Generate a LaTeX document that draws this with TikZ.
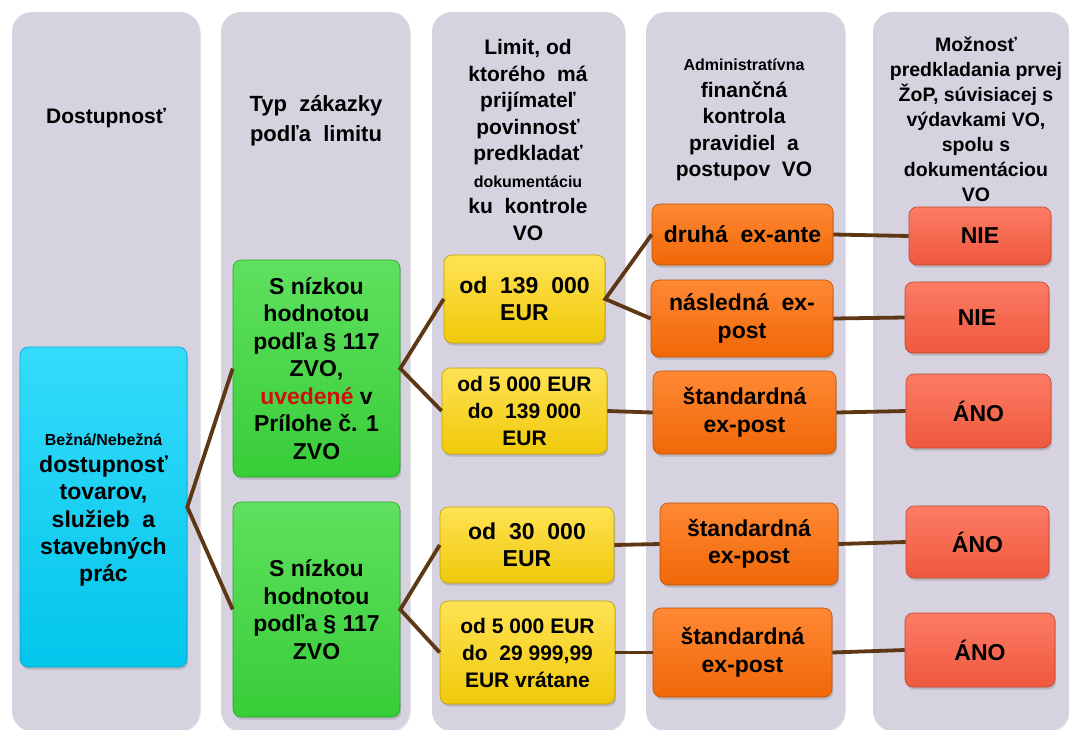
\documentclass[tikz,border=0pt]{standalone}
\usepackage{fontspec}
\setmainfont{Liberation Sans}
\usetikzlibrary{shadows}
\definecolor{colbg}{HTML}{D6D2E0}
\definecolor{cblue}{HTML}{03D2FA}
\definecolor{cgreen}{HTML}{3CDA3C}
\definecolor{cyellow}{HTML}{FFD60A}
\definecolor{corange}{HTML}{FF6E08}
\definecolor{cred}{HTML}{FD5E42}
\definecolor{clink}{HTML}{5E3714}
\definecolor{cuved}{HTML}{D01010}
\tikzset{
  colbox/.style={fill=colbg, rounded corners=20pt,
    drop shadow={shadow xshift=0.8pt, shadow yshift=-1pt, opacity=0.18}},
  head/.style={align=center, font=\bfseries\fontsize{21}{26.5}\selectfont, inner sep=0pt},
  box/.style={rectangle, rounded corners=8pt, align=center, inner sep=2pt,
    font=\bfseries\fontsize{23}{27.5}\selectfont, text=black,
    drop shadow={shadow xshift=1.2pt, shadow yshift=-2.5pt, opacity=0.35}},
  bluebox/.style={box, draw=cblue!80!black, line width=0.6pt, top color=cblue!80!white, middle color=cblue, bottom color=cblue!94!black},
  greenbox/.style={box, draw=cgreen!75!black, line width=0.6pt, top color=cgreen!82!white, middle color=cgreen, bottom color=cgreen!94!black},
  yellowbox/.style={box, draw=cyellow!75!black, line width=0.6pt, top color=cyellow!70!white, middle color=cyellow, bottom color=cyellow!94!black},
  orangebox/.style={box, draw=corange!75!black, line width=0.6pt, top color=corange!82!white, middle color=corange, bottom color=corange!94!black},
  redbox/.style={box, draw=cred!75!black, line width=0.6pt, top color=cred!82!white, middle color=cred, bottom color=cred!94!black},
  link/.style={draw=clink, line width=3.8pt},
}
\begin{document}
\begin{tikzpicture}[x=1pt, y=-1pt]
\useasboundingbox (0,0) rectangle (1069,729);
\fill[white] (0,0) rectangle (1069,729);
\clip (0,0) rectangle (1069,729);
% columns
\path[colbox] (12,12) rectangle (200,731);
\path[colbox] (221,12) rectangle (410,731);
\path[colbox] (432,12) rectangle (625,731);
\path[colbox] (646,12) rectangle (845,731);
\path[colbox] (873,12) rectangle (1069,731);
% headers
\node[head] (h1) at (106,118) {Dostupnosť};
\node[head, font=\bfseries\fontsize{22}{30}\selectfont] (h2) at (316,121) {Typ\ \ zákazky\\podľa\ \ limitu};
\node[head] (h3) at (528,140) {Limit, od\\ktorého\ \ má\\prijímateľ\\povinnosť\\predkladať\\{\fontsize{16}{26.5}\selectfont dokumentáciu}\\ku\ \ kontrole\\VO};
\node[head] (h4) at (744,120) {{\fontsize{16}{26.5}\selectfont Administratívna}\\finančná\\kontrola\\pravidiel\ \ a\\postupov\ \ VO};
\node[head, font=\bfseries\fontsize{19.5}{25}\selectfont] (h5) at (976,119) {Možnosť\\predkladania prvej\\ŽoP, súvisiacej s\\výdavkami VO,\\spolu s\\dokumentáciou\\VO};
% boxes
\node[bluebox, minimum width=167pt, minimum height=320pt] (blue) at (103.5,507) {};
\node[font=\bfseries\fontsize{23}{27.3}\selectfont, align=center, inner sep=0pt] (bluetext) at (103.5,510) {{\fontsize{16}{27.3}\selectfont Bežná/Nebežná}\\dostupnosť\\tovarov,\\služieb\ \ a\\stavebných\\prác};
\node[greenbox, minimum width=167pt, minimum height=217pt] (g1) at (316.5,368.5) {S nízkou\\hodnotou\\podľa § 117\\ZVO,\\\textcolor{cuved}{uvedené} v\\Prílohe č. 1\\ZVO};
\node[greenbox, minimum width=167pt, minimum height=215pt] (g2) at (316.5,609.5) {S nízkou\\hodnotou\\podľa § 117\\ZVO};
\node[yellowbox, minimum width=161pt, minimum height=88pt] (y1) at (524.5,299) {od\ \ 139\ \ 000\\EUR};
\node[yellowbox, minimum width=165pt, minimum height=86pt, font=\bfseries\fontsize{21}{27}\selectfont] (y2) at (524.5,411) {od 5 000 EUR\\do\ \ 139 000\\EUR};
\node[yellowbox, minimum width=174pt, minimum height=76pt] (y3) at (527,545) {od\ \ 30\ \ 000\\EUR};
\node[yellowbox, minimum width=175pt, minimum height=103pt, font=\bfseries\fontsize{21}{27}\selectfont] (y4) at (527.5,652.5) {od 5 000 EUR\\do\ \ 29 999,99\\EUR vrátane};
\node[orangebox, minimum width=181pt, minimum height=61pt] (o1) at (742.5,234.5) {druhá\ \ ex-ante};
\node[orangebox, minimum width=182pt, minimum height=77pt] (o2) at (742,318.5) {následná\ \ ex-\\post};
\node[orangebox, minimum width=183pt, minimum height=83pt] (o3) at (744.5,412.5) {štandardná\\ex-post};
\node[orangebox, minimum width=178pt, minimum height=82pt] (o4) at (749,544) {štandardná\\ex-post};
\node[orangebox, minimum width=179pt, minimum height=89pt] (o5) at (742.5,652.5) {štandardná\\ex-post};
\node[redbox, minimum width=142pt, minimum height=58pt] (r1) at (980,236) {NIE};
\node[redbox, minimum width=144pt, minimum height=71pt] (r2) at (977,317.5) {NIE};
\node[redbox, minimum width=145pt, minimum height=74pt] (r3) at (978.5,411) {ÁNO};
\node[redbox, minimum width=143pt, minimum height=72pt] (r4) at (977.5,542) {ÁNO};
\node[redbox, minimum width=150pt, minimum height=74pt] (r5) at (980,650) {ÁNO};
% connectors
\draw[link] (g1.west) -- (blue.east) -- (g2.west);
\draw[link] (y1.west) -- (g1.east) -- (y2.west);
\draw[link] (y3.west) -- (g2.east) -- (y4.west);
\draw[link] (o1.west) -- (y1.east) -- (o2.west);
\draw[link] (y2.east) -- (o3.west);
\draw[link] (y3.east) -- (o4.west);
\draw[link] (y4.east) -- (o5.west);
\draw[link] (o1.east) -- (r1.west);
\draw[link] (o2.east) -- (r2.west);
\draw[link] (o3.east) -- (r3.west);
\draw[link] (o4.east) -- (r4.west);
\draw[link] (o5.east) -- (r5.west);
\end{tikzpicture}
\end{document}
